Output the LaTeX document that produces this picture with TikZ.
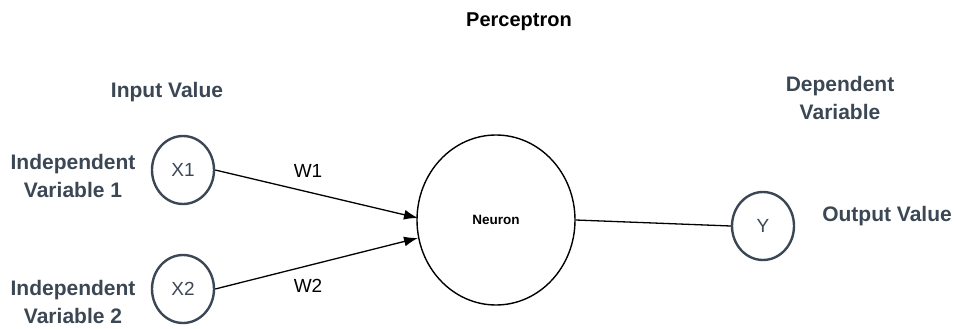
\documentclass[tikz,border=0pt]{standalone}
\usepackage{fontspec}
\setmainfont{Liberation Sans}
\usetikzlibrary{shapes.geometric,arrows.meta}
\definecolor{slate}{HTML}{3B4754}
\tikzset{
  inode/.style={ellipse, draw=slate, line width=2.4pt, minimum width=62pt, minimum height=68pt, inner sep=0pt, text=slate, font=\fontsize{19}{22}\selectfont},
  lbl/.style={text=slate, font=\bfseries\fontsize{21}{28}\selectfont, align=center, inner sep=0pt},
  wlbl/.style={font=\fontsize{19}{22}\selectfont, inner sep=0pt},
  conn/.style={line width=1.3pt, black},
  arr/.style={conn, -{Latex[length=14pt,width=10pt]}}
}
\begin{document}
\begin{tikzpicture}[x=1pt,y=-1pt]
\useasboundingbox (0,0) rectangle (955,329);
\node[font=\bfseries\fontsize{20}{24}\selectfont, inner sep=0pt] (title) at (519,22) {Perceptron};
\node[lbl] (inval) at (167,92) {Input Value};
\node[lbl] (iv1) at (73,176) {Independent\\Variable 1};
\node[lbl] (iv2) at (73,302) {Independent\\Variable 2};
\node[lbl] (dep) at (840,98) {Dependent\\Variable};
\node[lbl] (outval) at (887,216) {Output Value};
\node[inode] (x1) at (183,170) {X1};
\node[inode] (x2) at (183,289) {X2};
\node[inode] (y) at (763,226) {Y};
\node[ellipse, draw, line width=1.4pt, minimum width=158pt, minimum height=170pt, font=\bfseries\fontsize{13.5}{16}\selectfont, inner sep=0pt] (neuron) at (496,220) {Neuron};
\coordinate (t1) at (418,218);
\coordinate (t2) at (418,238);
\draw[arr] (x1.east) -- (t1);
\draw[arr] (x2.east) -- (t2);
\draw[conn] (neuron.east) -- (y.west);
\node[wlbl] (w1) at (308,171) {W1};
\node[wlbl] (w2) at (308,286) {W2};
\end{tikzpicture}
\end{document}
